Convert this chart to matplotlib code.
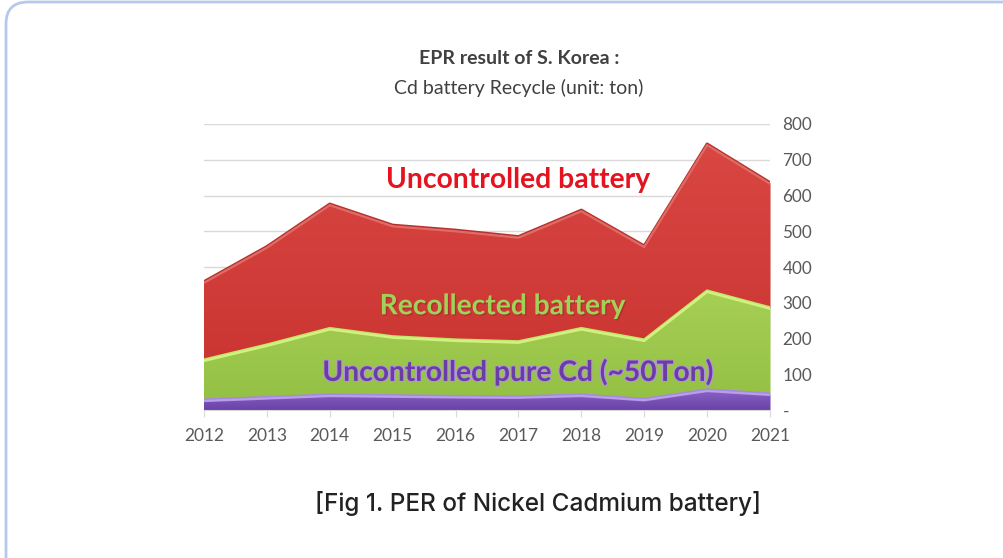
import numpy as np
import matplotlib
matplotlib.use("Agg")
import matplotlib.pyplot as plt
from matplotlib.patches import FancyBboxPatch
from matplotlib.colors import LinearSegmentedColormap
import matplotlib.patheffects as pe

# ---- data (tons) ----
years = [2012, 2013, 2014, 2015, 2016, 2017, 2018, 2019, 2020, 2021]
pure_cd = [28, 35, 42, 40, 38, 37, 42, 30, 56, 45]
recollected = [112, 147, 186, 165, 158, 154, 186, 166, 277, 241]
uncontrolled = [219, 275, 348, 312, 307, 294, 331, 263, 411, 350]
ytick_vals = [0, 100, 200, 300, 400, 500, 600, 700, 800]
ytick_labels = ["-", "100", "200", "300", "400", "500", "600", "700", "800"]

W, H = 1004, 558
fig = plt.figure(figsize=(W / 100, H / 100), dpi=100)
fig.patch.set_facecolor("white")

# rounded border
box = FancyBboxPatch((6 / 100, -20 / 100), 1030 / 100, (H - 2 + 20) / 100,
                     boxstyle="round,pad=0,rounding_size=0.22",
                     transform=fig.dpi_scale_trans, fill=False,
                     edgecolor="#b7c9ea", linewidth=2.0, zorder=0)
fig.patches.append(box)

ax = fig.add_axes([204 / W, 1 - 410 / H, (770 - 204) / W, (410 - 124) / H])
ax.set_facecolor("none")

x = np.array(years, dtype=float)
p = np.array(pure_cd, dtype=float)
g = p + np.array(recollected, dtype=float)
r = g + np.array(uncontrolled, dtype=float)

ax.set_xlim(years[0], years[-1])
ax.set_ylim(0, 800)

# grid
for v in ytick_vals[1:]:
    ax.axhline(v, color="#d9d9d9", lw=1.0, zorder=0)


def grad_fill(lower, upper, top_col, bot_col, edge_hi, edge_dark, z):
    poly = ax.fill_between(x, lower, upper, color=bot_col, lw=0, zorder=z)
    cmap = LinearSegmentedColormap.from_list("c", [bot_col, top_col])
    grad = np.linspace(0, 1, 256).reshape(-1, 1)
    im = ax.imshow(grad, extent=[x[0], x[-1], 0, upper.max()], origin="lower",
                   aspect="auto", cmap=cmap, zorder=z + 0.1, interpolation="bicubic")
    im.set_clip_path(poly.get_paths()[0], transform=ax.transData)
    ax.plot(x, upper, color=edge_dark, lw=2.2, zorder=z + 0.2, solid_joinstyle="round")
    ax.plot(x, upper - 3, color=edge_hi, lw=1.6, zorder=z + 0.3, alpha=0.8,
            solid_joinstyle="round")


grad_fill(g, r, "#d94743", "#c8322f", "#e87a74", "#b8302c", 1)
grad_fill(p, g, "#a6cf55", "#92c043", "#d9f58a", "#c2e86a", 2)
grad_fill(np.zeros_like(p), p, "#8a64c9", "#6a42a8", "#c2a6f0", "#a888e0", 3)

ax.set_xticks(years)
ax.set_xticklabels([str(y) for y in years], fontsize=12.5, color="#595959",
                   family="Lato")
ax.yaxis.tick_right()
ax.set_yticks(ytick_vals)
ax.set_yticklabels(ytick_labels, fontsize=12.3, color="#595959", family="Lato")
ax.tick_params(axis="y", length=0, pad=9)
ax.tick_params(axis="x", length=5, color="#d9d9d9", pad=8)
for s in ["top", "right", "left"]:
    ax.spines[s].set_visible(False)
ax.spines["bottom"].set_color("#d9d9d9")
ax.spines["bottom"].set_zorder(5)

# in-chart labels
ax.text(2017.0, 643, "Uncontrolled battery", ha="center", va="center",
        fontsize=20.3, fontweight="bold", color="#e3141f", family="Lato", zorder=10)
ax.text(2016.75, 290, "Recollected battery", ha="center", va="center",
        fontsize=20.3, fontweight="bold", color="#a2d15a", family="Lato", zorder=10,
        path_effects=[pe.withSimplePatchShadow(offset=(1, -1), shadow_rgbFace="#7a2020", alpha=0.35)])
ax.text(2017.0, 106, "Uncontrolled pure Cd (~50Ton)", ha="center", va="center",
        fontsize=20.3, fontweight="bold", color="#6a3ca6", family="Lato", zorder=10,
        path_effects=[pe.withStroke(linewidth=1.5, foreground="#b592e0")])

# titles
fig.text(519 / W, 1 - 58 / H, "EPR result of S. Korea :", ha="center", va="center",
         fontsize=14, fontweight="bold", color="#404040", family="Lato")
fig.text(519 / W, 1 - 88 / H, "Cd battery Recycle (unit: ton)", ha="center",
         va="center", fontsize=14, color="#404040", family="Lato")

# caption
fig.text(538 / W, 1 - 503 / H, "[Fig 1. PER of Nickel Cadmium battery]", ha="center",
         va="center", fontsize=17.5, fontweight="medium", color="#222222", family="Inter")

fig.savefig("out.png", dpi=100, facecolor="white")
